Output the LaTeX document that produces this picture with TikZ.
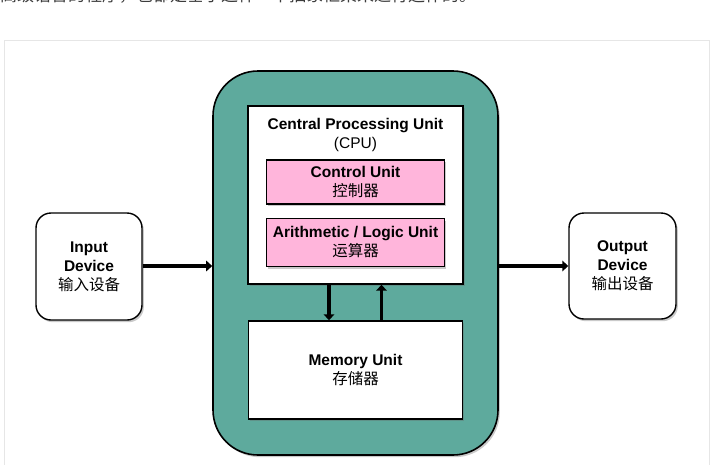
\documentclass[tikz,border=0pt]{standalone}
\usepackage{fontspec}
\setmainfont{Liberation Sans}
\newfontfamily\cjk{Noto Sans CJK SC}
\usetikzlibrary{arrows.meta,shadows}
\definecolor{tealfill}{RGB}{94,170,157}
\definecolor{pinkfill}{RGB}{255,181,219}
\definecolor{framegray}{RGB}{230,230,230}
\definecolor{toptext}{RGB}{60,60,60}
\newcommand{\zh}[1]{{\cjk\mdseries\fontsize{15.5}{19}\selectfont #1}}
\tikzset{
  shade/.style={drop shadow={shadow xshift=1.8pt,shadow yshift=-2.2pt,opacity=0.35,fill=black!60}},
  boxbase/.style={draw=black,line width=1.4pt,shade,align=center,inner sep=0pt,
    font=\bfseries\fontsize{15.5}{19}\selectfont},
  whitebox/.style={boxbase,fill=white},
  pinkbox/.style={boxbase,fill=pinkfill,line width=1.2pt},
  devbox/.style={boxbase,fill=white,rounded corners=15pt},
  flow/.style={line width=3.8pt,-{Triangle[length=6pt,width=10.5pt]}},
}
\begin{document}
\begin{tikzpicture}[x=1pt,y=-1pt]
\useasboundingbox (0,0) rectangle (715,464);
\begin{scope}
\clip (0,0) rectangle (715,464);
\node[anchor=west,inner sep=0pt,text=toptext,font=\cjk\fontsize{17}{17}\selectfont] (intro) at (0,-5) {高级语言的程序，也都是基于这样一个抽象框架来进行运作的。};
\draw[framegray,line width=0.8pt] (4.5,480) -- (4.5,40.5) -- (709,40.5) -- (709,480);
\end{scope}
% outer teal
\node[draw=black,line width=1.6pt,fill=tealfill,rounded corners=45pt,shade,
  minimum width=285pt,minimum height=384pt,inner sep=0pt] (sys) at (355.5,263) {};
% CPU
\node[whitebox,minimum width=215pt,minimum height=178pt] (cpu) at (355.5,195) {};
\node[align=center,inner sep=0pt,font=\fontsize{15.5}{18.5}\selectfont] (cputitle) at (355.5,135)
  {\textbf{Central Processing Unit}\\(CPU)};
\node[pinkbox,minimum width=178pt,minimum height=44pt] (cu) at (355.5,182)
  {Control Unit\\\zh{控制器}};
\node[pinkbox,minimum width=178pt,minimum height=48pt] (alu) at (355.5,242.5)
  {Arithmetic / Logic Unit\\\zh{运算器}};
% memory
\node[whitebox,minimum width=214pt,minimum height=98pt] (mem) at (355.5,370)
  {Memory Unit\\\zh{存储器}};
% devices
\node[devbox,minimum width=106pt,minimum height=107pt] (in) at (89,266.5)
  {Input\\Device\\\zh{输入设备}};
\node[devbox,minimum width=107pt,minimum height=106pt] (out) at (622.5,266)
  {Output\\Device\\\zh{输出设备}};
% arrows
\draw[flow] (in.east |- 0,266) -- (sys.west |- 0,266);
\draw[flow] (sys.east |- 0,266) -- (out.west |- 0,266);
\draw[flow] (cpu.south -| 329,0) -- (mem.north -| 329,0);
\draw[flow] (mem.north -| 381.5,0) -- (cpu.south -| 381.5,0);
\end{tikzpicture}
\end{document}
